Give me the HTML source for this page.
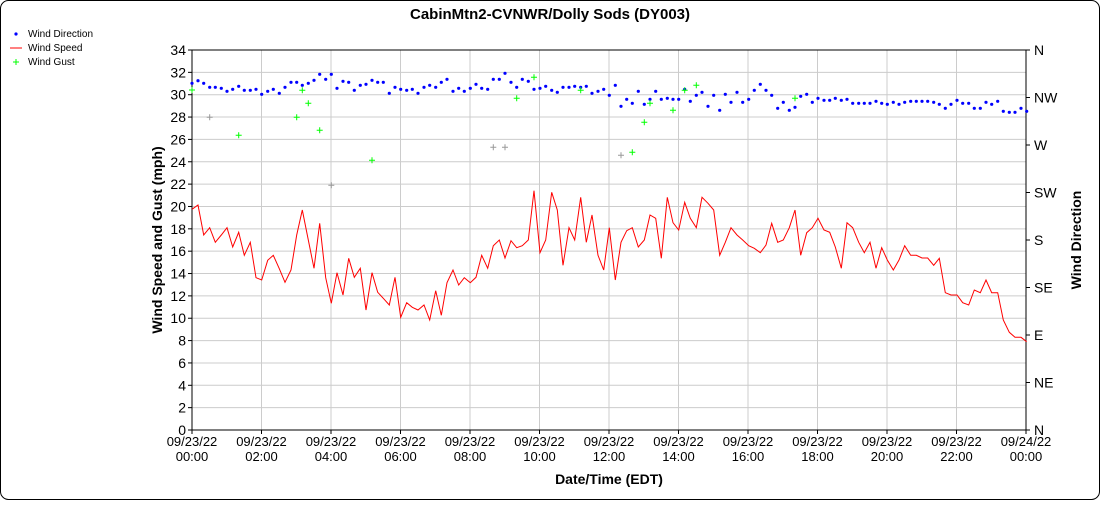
<!DOCTYPE html><html><head><meta charset="utf-8"><style>
body{margin:0;background:#fff;font-family:"Liberation Sans",sans-serif}
svg text{font-family:"Liberation Sans",sans-serif}
</style></head><body>
<svg id="s" width="1100" height="500" xmlns="http://www.w3.org/2000/svg">
<rect x="0.5" y="0.5" width="1099" height="499" rx="8" fill="#fff" stroke="#000"/>
<text x="550" y="19" font-size="15" font-weight="bold" text-anchor="middle">CabinMtn2-CVNWR/Dolly Sods (DY003)</text>
<g id="g"></g>
<text x="162" y="240" font-size="14" font-weight="bold" text-anchor="middle" transform="rotate(-90 162 240)">Wind Speed and Gust (mph)</text>
<text x="1081" y="240" font-size="14" font-weight="bold" text-anchor="middle" transform="rotate(-90 1081 240)">Wind Direction</text>
<text x="609" y="484" font-size="14" font-weight="bold" text-anchor="middle">Date/Time (EDT)</text>
<circle cx="16" cy="34" r="1.6" fill="#00f"/><text x="28" y="37" font-size="10">Wind Direction</text>
<line x1="10" y1="48" x2="22" y2="48" stroke="#f00"/><text x="28" y="51" font-size="10">Wind Speed</text>
<path d="M13 62h6M16 59v6" stroke="#0f0"/><text x="28" y="65" font-size="10">Wind Gust</text>
</svg>
<script>
const g=document.getElementById('g');let h='';
const X0=192,X1=1026,Y0=430,Y1=50;
for(let v=0;v<=34;v+=2){const y=Y0-(v/34)*(Y0-Y1);h+=`<line x1="${X0}" y1="${y}" x2="${X1}" y2="${y}" stroke="#ccc"/><line x1="${X0-4}" y1="${y}" x2="${X0}" y2="${y}" stroke="#000"/><text x="${X0-6}" y="${y+5}" font-size="14" text-anchor="end">${v}</text>`;}
const dl=['N','NE','E','SE','S','SW','W','NW','N'];
for(let i=0;i<=8;i++){const y=Y0-i*(Y0-Y1)/8;h+=`<line x1="${X1}" y1="${y}" x2="${X1+4}" y2="${y}" stroke="#000"/><text x="${X1+8}" y="${y+5}" font-size="14">${dl[i]}</text>`;}
const hl=['00:00','02:00','04:00','06:00','08:00','10:00','12:00','14:00','16:00','18:00','20:00','22:00','00:00'];
for(let i=0;i<=12;i++){const x=X0+i*(X1-X0)/12;h+=`<line x1="${x}" y1="${Y1}" x2="${x}" y2="${Y0}" stroke="#ccc"/><line x1="${x}" y1="${Y0}" x2="${x}" y2="${Y0+4}" stroke="#000"/><text x="${x}" y="${Y0+16}" font-size="13" text-anchor="middle">${i==12?'09/24/22':'09/23/22'}</text><text x="${x}" y="${Y0+31}" font-size="13" text-anchor="middle">${hl[i]}</text>`;}
h+=`<rect x="${X0}" y="${Y1}" width="${X1-X0}" height="${Y0-Y1}" fill="none" stroke="#000"/>`;
const s1=[[36,508],[54,495],[71,585],[89,563],[106,607],[124,585],[141,563],[158,621],[176,577],[193,646],[211,607],[228,713],[245,720],[263,661],[280,646],[298,686],[315,727],[333,690],[350,585],[367,510],[385,600],[402,685],[419,550],[437,713],[454,790],[471,698],[489,765],[506,655],[523,712],[541,685],[558,810],[576,698],[593,757],[610,775],[628,795],[645,712],[662,832],[680,788],[697,802],[714,810],[732,795],[749,840],[767,752],[784,826],[801,728],[819,690],[836,735],[853,713],[871,728],[888,712],[905,646],[923,685],[940,617],[958,600],[975,654],[993,602],[1010,623],[1027,617],[1045,600],[1062,452],[1080,638],[1097,600],[1115,457],[1132,510],[1149,676],[1167,563],[1184,600],[1202,472],[1219,607],[1236,525],[1254,646],[1271,690],[1288,563]];
const s2=[[46,720],[63,607],[80,572],[97,563],[115,621],[133,600],[150,525],[167,535],[184,655],[202,472],[219,548],[236,570],[254,487],[271,535],[289,563],[306,472],[324,490],[341,510],[359,646],[376,607],[393,563],[411,585],[428,600],[446,617],[463,625],[481,638],[498,615],[515,550],[533,607],[550,600],[568,563],[585,510],[602,646],[620,578],[637,563],[654,535],[672,570],[689,577],[706,621],[724,685],[741,548],[758,563],[776,607],[793,638],[810,607],[828,685],[845,623],[862,660],[880,690],[897,660],[914,617],[932,646],[949,646],[966,654],[983,654],[1001,676],[1018,655],[1036,758],[1053,765],[1071,765],[1088,788],[1106,795],[1123,750],[1141,758],[1158,720],[1175,758],[1193,758],[1210,840],[1228,877],[1245,892],[1263,892],[1280,905]];
const pts=s1.map(p=>[180+p[0]/3,40+p[1]/3]).concat(s2.map(p=>[600+p[0]/3,40+p[1]/3]));
h+=`<polyline fill="none" stroke="#f00" stroke-width="1" points="${pts.map(p=>p[0].toFixed(1)+','+p[1].toFixed(1)).join(' ')}"/>`;
const d1=[[36,130],[54,122],[71,130],[89,142],[106,142],[124,145],[141,154],[158,148],[176,139],[193,151],[211,151],[228,148],[245,163],[263,154],[280,148],[298,160],[315,142],[333,127],[350,127],[367,136],[385,130],[402,121],[419,103],[437,118],[454,103],[471,145],[489,124],[506,127],[523,151],[541,136],[558,133],[576,121],[593,127],[610,127],[628,160],[645,142],[662,148],[680,151],[697,148],[714,160],[732,142],[749,136],[767,142],[784,127],[801,118],[819,154],[836,145],[853,154],[871,145],[888,133],[905,145],[923,148],[940,118],[958,118],[975,100],[993,127],[1010,142],[1027,118],[1045,124],[1062,148],[1080,145],[1097,139],[1115,151],[1132,157],[1149,142],[1167,142],[1184,139],[1202,142],[1219,139],[1236,160],[1254,154],[1271,148],[1288,166]];
const d2=[[46,136],[63,199],[80,178],[97,190],[115,154],[133,193],[150,178],[167,154],[184,178],[202,175],[219,178],[236,178],[254,148],[271,184],[289,166],[306,157],[324,199],[341,166],[359,211],[376,163],[393,187],[411,157],[428,187],[446,178],[463,151],[481,133],[498,151],[515,166],[533,205],[550,187],[568,211],[585,202],[602,169],[620,163],[637,187],[654,175],[672,181],[689,181],[706,175],[724,181],[741,178],[758,190],[776,190],[793,190],[810,190],[828,184],[845,190],[862,193],[880,187],[897,193],[914,187],[932,184],[949,184],[966,184],[983,184],[1001,187],[1018,193],[1036,205],[1053,193],[1071,181],[1088,190],[1106,190],[1123,205],[1141,205],[1158,187],[1175,193],[1193,184],[1210,214],[1228,217],[1245,217],[1263,205],[1280,214]];
d1.map(p=>[180+p[0]/3,40+p[1]/3]).concat(d2.map(p=>[600+p[0]/3,40+p[1]/3])).forEach(p=>{h+=`<circle cx="${p[0].toFixed(1)}" cy="${p[1].toFixed(1)}" r="1.6" fill="#00f"/>`;});
const gu=[[192,90,'#0f0'],[209.7,117.3,'#999'],[238.7,135.3,'#0f0'],[296.7,117.3,'#0f0'],[302.3,90.3,'#0f0'],[308.3,103.3,'#0f0'],[319.7,130.3,'#0f0'],[331.3,185.3,'#999'],[372,160.3,'#0f0'],[493.3,147.3,'#999'],[505,147.3,'#999'],[516.7,98.3,'#0f0'],[534,77.3,'#0f0'],[580.7,90.3,'#0f0'],[621,155.3,'#999'],[632.3,152.3,'#0f0'],[644.3,122.3,'#0f0'],[650,103.3,'#0f0'],[673,110.3,'#0f0'],[684.7,90.3,'#0f0'],[696.3,85.3,'#0f0'],[795,98.3,'#0f0']];
gu.forEach(p=>{h+=`<path d="M${p[0]-3} ${p[1]}h6M${p[0]} ${p[1]-3}v6" stroke="${p[2]}" stroke-width="1"/>`;});
g.innerHTML=h;
</script>
</body></html>
